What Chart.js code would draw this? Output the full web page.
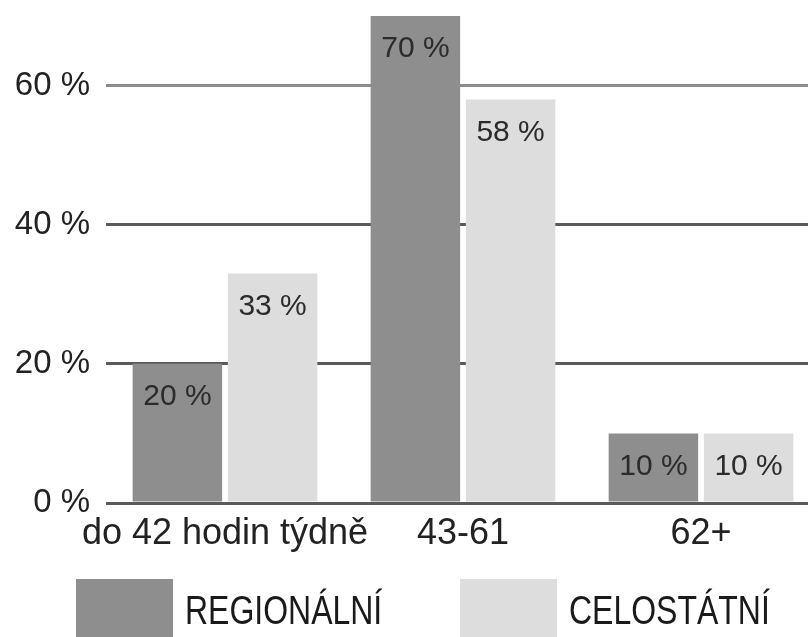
<!DOCTYPE html>
<html>
<head>
<meta charset="utf-8">
<script src="https://cdn.jsdelivr.net/npm/chart.js@4.4.1/dist/chart.umd.min.js"></script>
<style>
    html, body { margin: 0; padding: 0; background: #fff; overflow: hidden; }
    #wrap { width: 820px; height: 655px; }
</style>
</head>
<body>
<div id="wrap"><canvas id="myChart" width="820" height="655"></canvas></div>
<script>
const categories = ['do 42 hodin týdně', '43-61', '62+'];
const regionalValues = [20, 70, 10];
const nationalValues = [33, 58, 10];
const seriesNames = ['REGIONÁLNÍ', 'CELOSTÁTNÍ'];
const yTicks = [0, 20, 40, 60];

// value labels drawn inside the top of each bar
const barLabels = {
    id: 'barLabels',
    afterDatasetsDraw(chart) {
        const ctx = chart.ctx;
        ctx.save();
        ctx.font = '30px "Liberation Sans", Arial, sans-serif';
        ctx.fillStyle = '#2b2b2b';
        ctx.textAlign = 'center';
        ctx.textBaseline = 'middle';
        chart.data.datasets.forEach((ds, i) => {
            chart.getDatasetMeta(i).data.forEach((bar, j) => {
                ctx.fillText(ds.data[j] + ' %', bar.x, bar.y + 33);
            });
        });
        ctx.restore();
    }
};

// big square legend under the axis, text is condensed like the original
const squareLegend = {
    id: 'squareLegend',
    afterDraw(chart) {
        const ctx = chart.ctx;
        const startX = [76, 460];
        const top = 579, boxW = 97, boxH = 66;
        ctx.save();
        chart.data.datasets.forEach((ds, i) => {
            ctx.fillStyle = ds.backgroundColor;
            ctx.fillRect(startX[i], top, boxW, boxH);
            ctx.save();
            ctx.translate(startX[i] + boxW + 12, top + 34);
            ctx.scale(0.78, 1);
            ctx.font = '41px "Liberation Sans", Arial, sans-serif';
            ctx.fillStyle = '#1a1a1a';
            ctx.textAlign = 'left';
            ctx.textBaseline = 'middle';
            ctx.fillText(ds.label, 0, 0);
            ctx.restore();
        });
        ctx.restore();
    }
};

Chart.defaults.font.family = '"Liberation Sans", Arial, sans-serif';
Chart.defaults.color = '#222';

const ctx = document.getElementById('myChart').getContext('2d');
const myChart = new Chart(ctx, {
    type: 'bar',
    data: {
        labels: categories,
        datasets: [{
            label: seriesNames[0],
            data: regionalValues,
            backgroundColor: '#8e8e8e',
            categoryPercentage: 0.8,
            barPercentage: 0.94
        }, {
            label: seriesNames[1],
            data: nationalValues,
            backgroundColor: '#dddddd',
            categoryPercentage: 0.8,
            barPercentage: 0.94
        }]
    },
    options: {
        responsive: false,
        animation: false,
        devicePixelRatio: 1,
        layout: { padding: { top: 2, left: 0, right: 0, bottom: 102 } },
        plugins: {
            tooltip: { enabled: false },
            legend: { display: false }
        },
        scales: {
            x: {
                grid: { display: false },
                border: { display: false },
                ticks: { font: { size: 36 }, padding: 1, maxRotation: 0, autoSkip: false },
                afterFit: (scale) => { scale.height = 50; scale.paddingLeft = 0; scale.paddingRight = 0; }
            },
            y: {
                min: 0,
                max: 72,
                afterBuildTicks: (scale) => {
                    scale.ticks = yTicks.map((v) => ({ value: v }));
                },
                afterFit: (scale) => { scale.width = 106; scale.paddingTop = 0; scale.paddingBottom = 0; },
                border: { display: false },
                grid: {
                    drawTicks: false,
                    lineWidth: 3,
                    color: (c) => (c.tick && c.tick.value === 60) ? '#8c8c8c' : '#5a5a5a'
                },
                ticks: {
                    font: { size: 33 },
                    padding: 16,
                    callback: (v) => v + ' %'
                }
            }
        }
    },
    plugins: [barLabels, squareLegend]
});
</script>
</body>
</html>
